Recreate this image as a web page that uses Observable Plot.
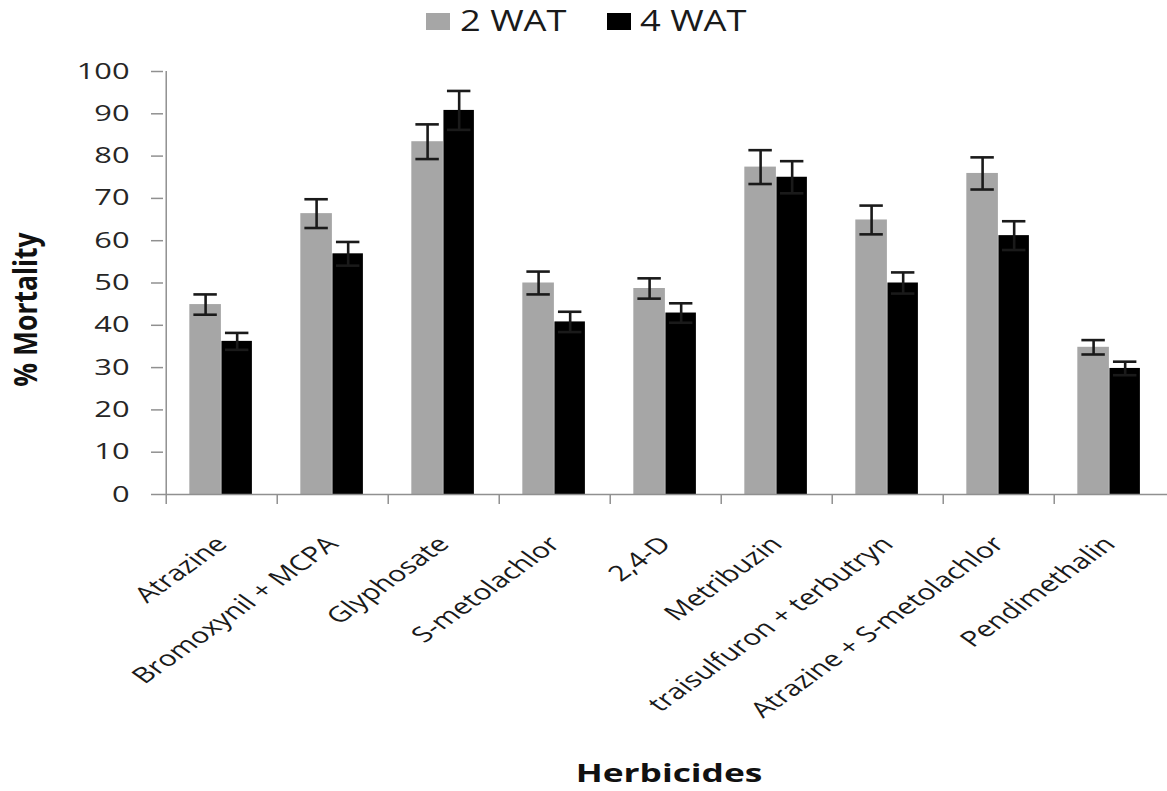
<!DOCTYPE html>
<html>
<head>
<meta charset="utf-8">
<script src="https://cdn.jsdelivr.net/npm/d3@7"></script>
<script src="https://cdn.jsdelivr.net/npm/@observablehq/plot@0.6"></script>
<style>
  html, body { margin: 0; padding: 0; background: #fff; overflow: hidden; }
  #legend { position: relative; width: 1167px; height: 50px; font-family: "Open Sans", sans-serif; }
  #legend .sw { position: absolute; top: 13px; width: 24px; height: 17px; }
  #legend .lt { position: absolute; top: 5px; font-size: 29px; line-height: 1; color: #1a1a1a; transform: scaleX(1.25); transform-origin: left top; white-space: nowrap; }
</style>
</head>
<body>
<div id="legend"></div>
<div id="chart"></div>
<script>
// ---- data ----
const herbicides = ["Atrazine", "Bromoxynil + MCPA", "Glyphosate", "S-metolachlor", "2,4-D", "Metribuzin", "traisulfuron + terbutryn", "Atrazine + S-metolachlor", "Pendimethalin"];
const series = ["2 WAT", "4 WAT"];
const wat2 = [44.9, 66.4, 83.4, 50.0, 48.7, 77.4, 64.9, 75.9, 34.8];
const wat2Err = [2.4, 3.4, 4.1, 2.7, 2.4, 4.0, 3.4, 3.8, 1.7];
const wat4 = [36.2, 56.9, 90.8, 40.8, 42.9, 75.0, 50.0, 61.2, 29.8];
const wat4Err = [2.0, 2.8, 4.6, 2.4, 2.3, 3.8, 2.5, 3.4, 1.6];
const yTicks = [0, 10, 20, 30, 40, 50, 60, 70, 80, 90, 100];
const colors = ["#a6a6a6", "#000000"];

// ---- legend ----
const legend = document.getElementById("legend");
const legendPos = [[426, 460], [607, 640]];
series.forEach((s, i) => {
  const sw = document.createElement("div");
  sw.className = "sw"; sw.style.left = legendPos[i][0] + "px"; sw.style.background = colors[i];
  const t = document.createElement("div");
  t.className = "lt"; t.style.left = legendPos[i][1] + "px"; t.textContent = s;
  legend.append(sw, t);
});

// ---- chart ----
const width = 1167, height = 741, marginLeft = 163, marginRight = 0, marginTop = 21, marginBottom = 297;
const bw = (width - marginLeft - marginRight) / herbicides.length;
const rows2 = herbicides.map((h, i) => ({herb: h, v: wat2[i], e: wat2Err[i]}));
const rows4 = herbicides.map((h, i) => ({herb: h, v: wat4[i], e: wat4Err[i]}));
const axisGray = "#909090";
const errColor = "#1a1a1a";
const capHalf = 12;
const g0 = 0.209, mid = 0.497, b1 = 0.775;
const c2 = (g0 + mid) / 2, c4 = (mid + b1) / 2;

function errMarks(rows, c) {
  return [
    Plot.ruleX(rows, {x: "herb", y1: d => d.v - d.e, y2: d => d.v + d.e, dx: (c - 0.5) * bw, stroke: errColor, strokeWidth: 2.6}),
    Plot.tickY(rows, {x: "herb", y: d => d.v + d.e, insetLeft: c * bw - capHalf, insetRight: bw - c * bw - capHalf, stroke: errColor, strokeWidth: 2.6}),
    Plot.tickY(rows, {x: "herb", y: d => d.v - d.e, insetLeft: c * bw - capHalf, insetRight: bw - c * bw - capHalf, stroke: errColor, strokeWidth: 2.6})
  ];
}

const plot = Plot.plot({
  width, height, marginLeft, marginRight, marginTop, marginBottom,
  style: {fontFamily: "'Open Sans', sans-serif", background: "#fff", overflow: "visible"},
  x: {type: "band", domain: herbicides, padding: 0, label: null},
  y: {domain: [0, 100], label: null},
  marks: [
    Plot.barY(rows2, {x: "herb", y: "v", fill: colors[0], insetLeft: g0 * bw, insetRight: (1 - mid) * bw}),
    Plot.barY(rows4, {x: "herb", y: "v", fill: colors[1], insetLeft: mid * bw, insetRight: (1 - b1) * bw}),
    ...errMarks(rows2, c2),
    ...errMarks(rows4, c4),
    Plot.ruleX([herbicides[0]], {x: d => d, dx: -bw / 2, y1: 0, y2: 100, stroke: axisGray, strokeWidth: 1.5}),
    Plot.ruleY([0], {stroke: axisGray, strokeWidth: 1.5}),
    Plot.axisY({ticks: yTicks, tickSize: 12, tickPadding: 22, fontSize: 22, stroke: axisGray, strokeWidth: 1.5, fill: "#262626", label: null}),
    Plot.axisX({tickSize: 10, tickFormat: () => "", dx: -bw / 2, stroke: axisGray, strokeWidth: 1.5, label: null}),
    Plot.axisX({tickSize: 0, tickPadding: 46, tickRotate: -45, textAnchor: "end", lineAnchor: "middle", fontSize: 21.5, fill: "#1a1a1a", label: null}),
    Plot.text(["Herbicides"], {frameAnchor: "bottom", text: d => d, textAnchor: "middle", lineAnchor: "middle", dx: 3.5, dy: 279.5, fontSize: 25.6, fontWeight: "bold", fill: "#111"}),
    Plot.text(["% Mortality"], {frameAnchor: "left", text: d => d, textAnchor: "middle", lineAnchor: "middle", rotate: -90, dx: -136.7, dy: 26.5, fontSize: 26.5, fontWeight: "bold", fill: "#111"})
  ]
});
document.getElementById("chart").append(plot);

function stretch(nodes, sx) {
  nodes.forEach(t => {
    const tr = t.getAttribute("transform") || "";
    if (/translate\([^)]*\)/.test(tr)) {
      t.setAttribute("transform", tr.replace(/(translate\([^)]*\))/, `$1 scale(${sx},1)`));
    } else {
      const x = +t.getAttribute("x") || 0, y = +t.getAttribute("y") || 0;
      t.setAttribute("transform", `translate(${x},${y}) scale(${sx},1) translate(${-x},${-y}) ${tr}`);
    }
  });
}
stretch(plot.querySelectorAll('g[aria-label="y-axis tick label"] text'), 1.4);
stretch(plot.querySelectorAll('g[aria-label="x-axis tick label"] text'), 1.4);
const textGroups = plot.querySelectorAll('g[aria-label="text"]');
if (textGroups[0]) stretch(textGroups[0].querySelectorAll("text"), 1.38);
if (textGroups[1]) stretch(textGroups[1].querySelectorAll("text"), 1.23);
</script>
</body>
</html>
